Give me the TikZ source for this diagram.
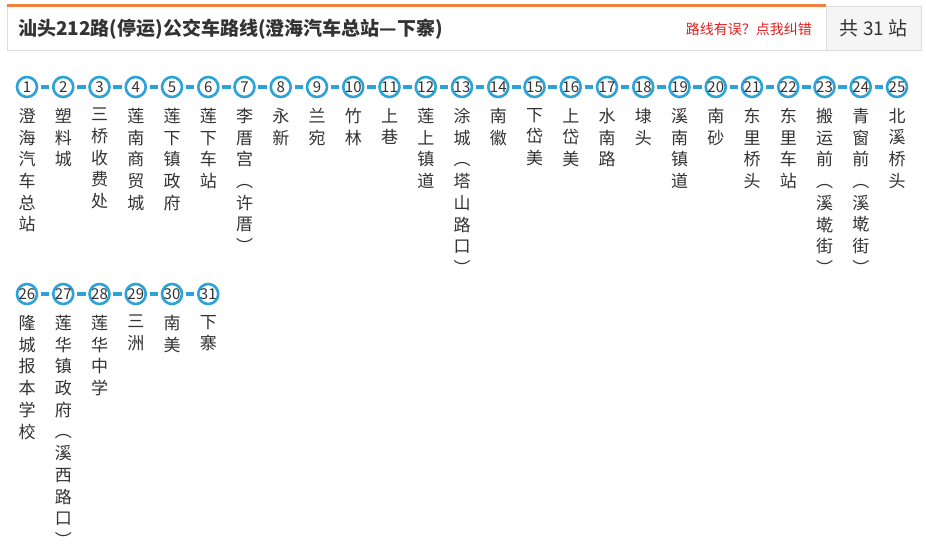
\documentclass[tikz,border=0pt]{standalone}
\usepackage{fontspec}
\setmainfont{Noto Sans CJK SC}
\definecolor{lb}{HTML}{2BA3D9}
\definecolor{tx}{HTML}{333333}
\definecolor{org}{HTML}{F08040}
\definecolor{rd}{HTML}{E02020}
\definecolor{bd}{HTML}{DDDDDD}
\tikzset{
 stop/.style={circle,draw=lb,line width=2.6pt,fill=white,minimum size=20pt,inner sep=0pt,text=tx,font=\fontsize{15}{15}\selectfont},
 link/.style={draw=lb,line width=4pt,shorten <=2.5pt,shorten >=2.5pt},
 lab/.style={anchor=north,align=center,text=tx,inner sep=0pt,font=\fontsize{17}{21.7}\selectfont}
}
\begin{document}
\begin{tikzpicture}[x=1pt,y=-1pt]
\useasboundingbox (0,0) rectangle (926,548);
\fill[white] (0,0) rectangle (926,548);
\node[draw=bd,fill=white,minimum width=819pt,minimum height=44pt,anchor=north west,inner sep=0pt] (hdr) at (7,6) {};
\node[draw=bd,fill=black!4,minimum width=95pt,minimum height=44pt,anchor=north west,inner sep=0pt,text=tx,font=\fontsize{19}{19}\selectfont] (cnt) at (826,6) {共 31 站};
\draw[org,line width=3pt] (hdr.north west) -- (hdr.north east);
\node[anchor=west,text=tx,font=\bfseries\fontsize{19}{19}\selectfont,inner sep=0pt] (title) at (18,29) {汕头212路(停运)公交车路线(澄海汽车总站—下寨)};
\node[anchor=east,text=rd,font=\fontsize{14}{14}\selectfont,inner sep=0pt] (err) at (812,29) {路线有误？点我纠错};
\foreach \i/\t in {1/澄\\海\\汽\\车\\总\\站,2/塑\\料\\城,3/三\\桥\\收\\费\\处,4/莲\\南\\商\\贸\\城,5/莲\\下\\镇\\政\\府,6/莲\\下\\车\\站,7/李\\厝\\宫\\︵\\许\\厝\\︶,8/永\\新,9/兰\\宛,10/竹\\林,11/上\\巷,12/莲\\上\\镇\\道,13/涂\\城\\︵\\塔\\山\\路\\口\\︶,14/南\\徽,15/下\\岱\\美,16/上\\岱\\美,17/水\\南\\路,18/埭\\头,19/溪\\南\\镇\\道,20/南\\砂,21/东\\里\\桥\\头,22/东\\里\\车\\站,23/搬\\运\\前\\︵\\溪\\墘\\街\\︶,24/青\\窗\\前\\︵\\溪\\墘\\街\\︶,25/北\\溪\\桥\\头}{
 \node[stop] (s\i) at ({27+36.25*(\i-1)},87) {\i};
 \node[lab] (l\i) at ({27+36.25*(\i-1)},108) {\t};
}
\foreach \i/\t in {26/隆\\城\\报\\本\\学\\校,27/莲\\华\\镇\\政\\府\\︵\\溪\\西\\路\\口\\︶,28/莲\\华\\中\\学,29/三\\洲,30/南\\美,31/下\\寨}{
 \node[stop] (s\i) at ({27+36.25*(\i-26)},294) {\i};
 \node[lab] (l\i) at ({27+36.25*(\i-26)},315) {\t};
}
\foreach \a/\b in {1/2,2/3,3/4,4/5,5/6,6/7,7/8,8/9,9/10,10/11,11/12,12/13,13/14,14/15,15/16,16/17,17/18,18/19,19/20,20/21,21/22,22/23,23/24,24/25,26/27,27/28,28/29,29/30,30/31}
 \draw[link] (s\a) -- (s\b);
\end{tikzpicture}
\end{document}
